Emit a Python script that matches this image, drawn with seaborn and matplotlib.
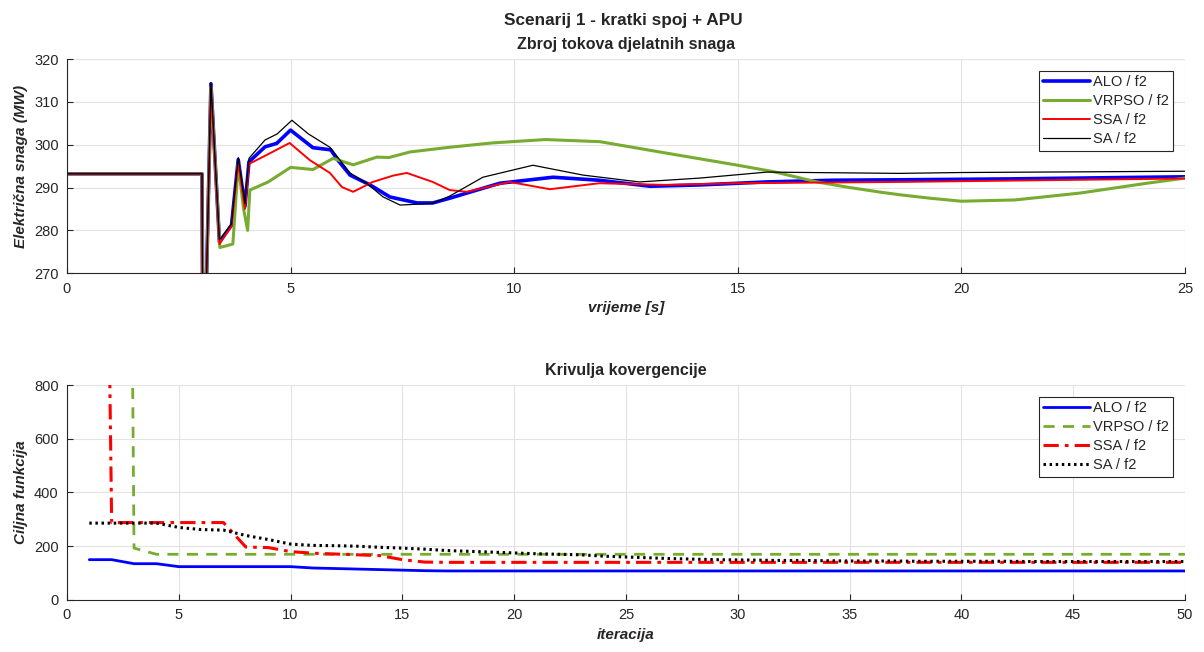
import numpy as np
import pandas as pd
import seaborn as sns
import matplotlib
matplotlib.use("Agg")
import matplotlib.pyplot as plt

# --- top panel: sum of active power flows (MW) vs time (s) ---
t_alo = [0, 3.02, 3.04, 3.08, 3.22, 3.41, 3.68, 3.83, 3.98, 4.07, 4.43, 4.69, 5.0, 5.5, 5.9, 6.05,
         6.33, 6.78, 7.22, 7.83, 8.18, 8.56, 8.94, 9.68, 10.87, 11.9, 13.04, 14.15, 15.65, 17.13,
         18.6, 21, 25]
p_alo = [293.2, 293.2, 250, 250, 314.2, 277.3, 281.2, 296.5, 285.6, 296.0, 299.5, 300.3, 303.4, 299.3,
         298.8, 296.5, 292.9, 290.6, 287.8, 286.4, 286.4, 287.5, 288.7, 291.0, 292.4, 291.7, 290.3,
         290.6, 291.3, 291.7, 291.8, 292.0, 292.5]

t_vrpso = [0, 3.02, 3.04, 3.08, 3.22, 3.42, 3.71, 3.83, 3.95, 4.04, 4.09, 4.5, 5.0, 5.5, 5.95, 6.4,
           6.93, 7.2, 7.67, 8.56, 9.5, 10.7, 11.92, 13.42, 15.0, 15.8, 16.77, 17.5, 18.2, 18.63,
           19.3, 20.0, 21.2, 22.65, 24.15, 25]
p_vrpso = [293.2, 293.2, 250, 250, 313.5, 276.0, 276.8, 295.5, 285.0, 280.0, 289.4, 291.3, 294.7,
           294.2, 296.8, 295.3, 297.1, 297.0, 298.3, 299.4, 300.4, 301.2, 300.7, 298.0, 295.2, 293.7,
           291.3, 290.0, 288.9, 288.3, 287.5, 286.8, 287.1, 288.7, 291.0, 292.2]

t_ssa = [0, 3.02, 3.04, 3.08, 3.22, 3.41, 3.68, 3.83, 3.98, 4.07, 4.54, 4.98, 5.43, 5.88, 6.15, 6.4,
         6.84, 7.3, 7.6, 8.18, 8.56, 8.94, 9.9, 10.8, 11.9, 13.4, 14.9, 18.6, 21, 25]
p_ssa = [293.2, 293.2, 250, 250, 313.5, 276.8, 281.0, 296.0, 285.0, 295.5, 298.0, 300.4, 296.4, 293.4,
         290.1, 289.0, 291.3, 292.8, 293.4, 291.3, 289.4, 289.0, 291.3, 289.6, 291.0, 290.6, 291.0,
         291.3, 291.6, 292.1]

t_sa = [0, 3.02, 3.04, 3.08, 3.22, 3.41, 3.68, 3.83, 3.98, 4.07, 4.43, 4.7, 5.03, 5.4, 5.88, 6.33,
        6.7, 7.07, 7.45, 8.18, 8.56, 9.3, 10.42, 11.54, 12.8, 14.15, 15.65, 18.6, 20, 25]
p_sa = [293.2, 293.2, 250, 250, 314.5, 277.8, 281.5, 297.0, 286.2, 296.8, 301.1, 302.5, 305.7, 302.5,
        299.4, 293.4, 291.0, 287.8, 285.9, 286.3, 288.0, 292.4, 295.2, 292.9, 291.3, 292.2, 293.6,
        293.3, 293.5, 293.8]

# --- bottom panel: convergence curves ---
iteracija = np.arange(1, 51)
f_alo = [150, 150, 135, 135, 124, 124, 124, 124, 124, 124, 119, 117, 115, 113, 111, 109] + [108] * 34
f_vrpso = [12000, 10300, 193] + [170] * 47
f_ssa = [6650, 288, 288, 288, 288, 288, 288, 197, 195, 180, 174, 171, 168, 165, 150, 141] + [140] * 34
f_sa = [286, 286, 286, 286, 270, 262, 260, 240, 225, 208, 203, 202, 200, 196, 193, 189, 184, 181,
        178, 175, 172, 170, 168, 163, 160, 157, 154, 152, 150, 149, 148, 147, 147, 146, 145,
        145, 145, 144, 144, 144, 144, 144, 143, 143, 143, 143, 143, 143, 143, 143]

labels = ["ALO / f2", "VRPSO / f2", "SSA / f2", "SA / f2"]
c_blue, c_green, c_red, c_black = "#0000ff", "#77ac30", "#ff0000", "#000000"

sns.set_style("ticks")
plt.rcParams["font.family"] = ["Liberation Sans", "DejaVu Sans"]

fig = plt.figure(figsize=(12.04, 6.52), dpi=100)
ax1 = fig.add_axes([0.0556, 0.581, 0.9286, 0.3285])
ax2 = fig.add_axes([0.0556, 0.0798, 0.9286, 0.3297])

sns.lineplot(x=t_alo, y=p_alo, ax=ax1, color=c_blue, lw=2.6, label=labels[0], sort=False)
sns.lineplot(x=t_vrpso, y=p_vrpso, ax=ax1, color=c_green, lw=2.2, label=labels[1], sort=False)
sns.lineplot(x=t_ssa, y=p_ssa, ax=ax1, color=c_red, lw=1.4, label=labels[2], sort=False)
sns.lineplot(x=t_sa, y=p_sa, ax=ax1, color=c_black, lw=0.9, label=labels[3], sort=False)

sns.lineplot(x=iteracija, y=f_alo, ax=ax2, color=c_blue, lw=2.0, label=labels[0])
sns.lineplot(x=iteracija, y=f_vrpso, ax=ax2, color=c_green, lw=2.0, linestyle=(0, (4, 3)), label=labels[1])
sns.lineplot(x=iteracija, y=f_ssa, ax=ax2, color=c_red, lw=2.2, linestyle=(0, (5, 2, 1.2, 2)), label=labels[2])
sns.lineplot(x=iteracija, y=f_sa, ax=ax2, color=c_black, lw=2.2, linestyle=(0, (0.8, 1.2)), label=labels[3])

ax1.set_xlim(0, 25)
ax1.set_ylim(270, 320)
ax1.set_xticks(range(0, 26, 5))
ax1.set_yticks(range(270, 321, 10))
ax2.set_xlim(0, 50)
ax2.set_ylim(0, 800)
ax2.set_xticks(range(0, 51, 5))
ax2.set_yticks(range(0, 801, 200))

for ax in (ax1, ax2):
    ax.grid(True, color="#e3e3e3", lw=0.8)
    ax.set_axisbelow(True)
    sns.despine(ax=ax)
    for s in ("left", "bottom"):
        ax.spines[s].set_color("#262626")
        ax.spines[s].set_linewidth(0.8)
    ax.tick_params(direction="in", length=4, width=0.8, color="#262626", labelsize=10.5,
                   labelcolor="#262626", pad=6)
    leg = ax.legend(loc="upper right", fontsize=10.5, handlelength=3.2, borderaxespad=0.8,
                    fancybox=False, framealpha=1, edgecolor="#262626", labelspacing=0.35,
                    handletextpad=0.2, borderpad=0.3)
    leg.get_frame().set_linewidth(0.8)

ax1.set_title("Zbroj tokova djelatnih snaga", fontsize=11.5, fontweight="bold", pad=7)
ax1.set_xlabel("vrijeme [s]", fontsize=11, fontweight="bold", style="italic")
ax1.set_ylabel("Električna snaga (MW)", fontsize=11, fontweight="bold", style="italic")
ax2.set_title("Krivulja kovergencije", fontsize=11.5, fontweight="bold", pad=7)
ax2.set_xlabel("iteracija", fontsize=11, fontweight="bold", style="italic")
ax2.set_ylabel("Ciljna funkcija", fontsize=11, fontweight="bold", style="italic")

fig.text(0.518, 0.968, "Scenarij 1 - kratki spoj + APU", ha="center", va="center",
         fontsize=12.4, fontweight="bold")

fig.savefig("out.png", dpi=100)
